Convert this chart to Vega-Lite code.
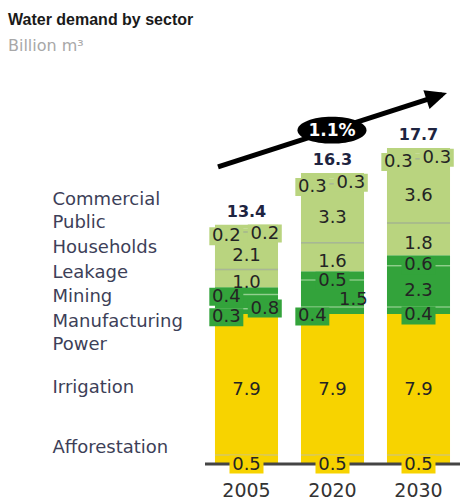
{
  "$schema": "https://vega.github.io/schema/vega-lite/v6.json",
  "width": 255,
  "height": 384,
  "autosize": "none",
  "padding": {"left": 205, "top": 80, "right": 0, "bottom": 37},
  "background": "white",
  "title": {
    "text": "Water demand by sector",
    "subtitle": "Billion m³",
    "anchor": "start",
    "frame": "group",
    "dx": -197,
    "offset": 26,
    "font": "Liberation Sans",
    "fontSize": 16,
    "fontWeight": "bold",
    "color": "#1a1a1a",
    "subtitleFont": "DejaVu Sans",
    "subtitleFontSize": 16,
    "subtitleColor": "#a8a8a8",
    "subtitlePadding": 10
  },
  "data": {
    "values": [
      {"year": "2005", "sector": "Afforestation", "value": 0.5},
      {"year": "2005", "sector": "Irrigation", "value": 7.9},
      {"year": "2005", "sector": "Power", "value": 0.3},
      {"year": "2005", "sector": "Manufacturing", "value": 0.8},
      {"year": "2005", "sector": "Mining", "value": 0.4},
      {"year": "2005", "sector": "Leakage", "value": 1.0},
      {"year": "2005", "sector": "Households", "value": 2.1},
      {"year": "2005", "sector": "Public", "value": 0.2},
      {"year": "2005", "sector": "Commercial", "value": 0.2},
      {"year": "2020", "sector": "Afforestation", "value": 0.5},
      {"year": "2020", "sector": "Irrigation", "value": 7.9},
      {"year": "2020", "sector": "Power", "value": 0.4},
      {"year": "2020", "sector": "Manufacturing", "value": 1.5},
      {"year": "2020", "sector": "Mining", "value": 0.5},
      {"year": "2020", "sector": "Leakage", "value": 1.6},
      {"year": "2020", "sector": "Households", "value": 3.3},
      {"year": "2020", "sector": "Public", "value": 0.3},
      {"year": "2020", "sector": "Commercial", "value": 0.3},
      {"year": "2030", "sector": "Afforestation", "value": 0.5},
      {"year": "2030", "sector": "Irrigation", "value": 7.9},
      {"year": "2030", "sector": "Power", "value": 0.4},
      {"year": "2030", "sector": "Manufacturing", "value": 2.3},
      {"year": "2030", "sector": "Mining", "value": 0.6},
      {"year": "2030", "sector": "Leakage", "value": 1.8},
      {"year": "2030", "sector": "Households", "value": 3.6},
      {"year": "2030", "sector": "Public", "value": 0.3},
      {"year": "2030", "sector": "Commercial", "value": 0.3}
    ]
  },
  "transform": [
    {"calculate": "indexof(['Afforestation','Irrigation','Power','Manufacturing','Mining','Leakage','Households','Public','Commercial'], datum.sector)", "as": "k"},
    {"stack": "value", "groupby": ["year"], "sort": [{"field": "k", "order": "ascending"}], "as": ["y0", "y1"]},
    {"calculate": "(datum.y0 + datum.y1) / 2", "as": "mid"}
  ],
  "layer": [
    {
      "layer": [
        {
          "mark": {"type": "bar"},
          "encoding": {
            "x": {
              "field": "year", "type": "nominal", "title": null,
              "scale": {"paddingInner": 0.267, "paddingOuter": 0.116},
              "axis": {"labelAngle": 0, "labelFont": "DejaVu Sans", "labelFontSize": 19, "labelColor": "#333333", "labelPadding": 17, "domain": false, "ticks": false}
            },
            "y": {
              "field": "y0", "type": "quantitative", "title": null,
              "scale": {"domain": [0, 21.51], "nice": false},
              "axis": {
                "values": [0.9, 4.31, 6.67, 7.96, 9.36, 10.7, 12.1, 13.5, 14.79],
                "labelExpr": "datum.value < 2 ? 'Afforestation' : datum.value < 5 ? 'Irrigation' : datum.value < 7 ? 'Power' : datum.value < 8.5 ? 'Manufacturing' : datum.value < 10 ? 'Mining' : datum.value < 11.5 ? 'Leakage' : datum.value < 13 ? 'Households' : datum.value < 14 ? 'Public' : 'Commercial'",
                "labelAlign": "left",
                "labelBaseline": "middle",
                "labelPadding": 153,
                "labelFont": "DejaVu Sans",
                "labelFontSize": 18,
                "labelColor": "#3d3f58",
                "labelOverlap": false,
                "labelBound": false,
                "labelFlush": false,
                "domain": false,
                "ticks": false,
                "grid": false
              }
            },
            "y2": {"field": "y1"},
            "color": {
              "field": "sector", "type": "nominal", "legend": null,
              "scale": {
                "domain": ["Afforestation", "Irrigation", "Power", "Manufacturing", "Mining", "Leakage", "Households", "Public", "Commercial"],
                "range": ["#f7d300", "#f7d300", "#33a33b", "#33a33b", "#33a33b", "#b9d47f", "#b9d47f", "#b9d47f", "#b9d47f"]
              }
            }
          }
        },
        {
          "transform": [{"filter": "indexof(['Afforestation','Power','Manufacturing','Leakage','Households'], datum.sector) >= 0"}],
          "mark": {"type": "tick", "thickness": 1.5, "size": 63, "orient": "horizontal"},
          "encoding": {
            "x": {"field": "year", "type": "nominal", "title": null},
            "y": {"field": "y1", "type": "quantitative", "title": null, "scale": {"domain": [0, 21.51], "nice": false}},
            "color": {
              "condition": [
                {"test": "datum.sector == 'Afforestation'", "value": "#c9c38f"},
                {"test": "datum.sector == 'Power' || datum.sector == 'Manufacturing'", "value": "#a6d8a0"}
              ],
              "value": "#9aa696"
            }
          }
        },
        {
          "data": {"values": [{"base": 0}]},
          "mark": {"type": "rule", "color": "#444444", "strokeWidth": 3},
          "encoding": {
            "y": {"field": "base", "type": "quantitative", "title": null, "scale": {"domain": [0, 21.51], "nice": false}}
          }
        },
        {
          "transform": [{"filter": "datum.sector == 'Afforestation' || (datum.sector == 'Mining' && datum.year != '2005') || (datum.sector == 'Power' && datum.year == '2030')"}],
          "mark": {"type": "point", "filled": true, "opacity": 1, "strokeWidth": 0, "size": 1156, "shape": "M-1,-0.235H1V0.824H-1Z"},
          "encoding": {
            "x": {"field": "year", "type": "nominal", "title": null},
            "y": {"field": "mid", "type": "quantitative", "title": null, "scale": {"domain": [0, 21.51], "nice": false}},
            "color": {"field": "sector", "type": "nominal", "legend": null}
          }
        },
        {
          "transform": [{"filter": "datum.sector == 'Public' || (datum.sector == 'Mining' && datum.year == '2005') || (datum.sector == 'Power' && datum.year != '2030')"}],
          "mark": {"type": "point", "filled": true, "opacity": 1, "strokeWidth": 0, "size": 1156, "shape": "M-1,-0.176H1V0.882H-1Z"},
          "encoding": {
            "x": {"field": "year", "type": "nominal", "title": null, "bandPosition": 0.18},
            "y": {"field": "mid", "type": "quantitative", "title": null, "scale": {"domain": [0, 21.51], "nice": false}},
            "color": {"field": "sector", "type": "nominal", "legend": null}
          }
        },
        {
          "transform": [{"filter": "datum.sector == 'Commercial' || (datum.sector == 'Manufacturing' && datum.year == '2005')"}],
          "mark": {"type": "point", "filled": true, "opacity": 1, "strokeWidth": 0, "size": 1156, "shape": "M-1,-0.118H1V0.941H-1Z"},
          "encoding": {
            "x": {"field": "year", "type": "nominal", "title": null, "bandPosition": 0.79},
            "y": {"field": "mid", "type": "quantitative", "title": null, "scale": {"domain": [0, 21.51], "nice": false}},
            "color": {"field": "sector", "type": "nominal", "legend": null}
          }
        },
        {
          "transform": [{"filter": "indexof(['Afforestation','Irrigation','Leakage','Households'], datum.sector) >= 0 || (datum.sector == 'Mining' && datum.year != '2005') || (datum.year == '2030' && (datum.sector == 'Power' || datum.sector == 'Manufacturing'))"}],
          "mark": {"type": "text", "font": "DejaVu Sans", "fontSize": 18, "color": "#242424", "baseline": "middle", "dy": 5},
          "encoding": {
            "x": {"field": "year", "type": "nominal", "title": null},
            "y": {"field": "mid", "type": "quantitative", "title": null, "scale": {"domain": [0, 21.51], "nice": false}},
            "text": {"field": "value", "type": "quantitative", "format": ".1f"}
          }
        },
        {
          "transform": [{"filter": "datum.sector == 'Public' || (datum.sector == 'Mining' && datum.year == '2005') || (datum.sector == 'Power' && datum.year != '2030')"}],
          "mark": {"type": "text", "font": "DejaVu Sans", "fontSize": 18, "color": "#242424", "baseline": "middle", "dy": 6},
          "encoding": {
            "x": {"field": "year", "type": "nominal", "title": null, "bandPosition": 0.18},
            "y": {"field": "mid", "type": "quantitative", "title": null, "scale": {"domain": [0, 21.51], "nice": false}},
            "text": {"field": "value", "type": "quantitative", "format": ".1f"}
          }
        },
        {
          "transform": [{"filter": "datum.sector == 'Commercial' || (datum.sector == 'Manufacturing' && datum.year == '2005')"}],
          "mark": {"type": "text", "font": "DejaVu Sans", "fontSize": 18, "color": "#242424", "baseline": "middle", "dy": 7},
          "encoding": {
            "x": {"field": "year", "type": "nominal", "title": null, "bandPosition": 0.79},
            "y": {"field": "mid", "type": "quantitative", "title": null, "scale": {"domain": [0, 21.51], "nice": false}},
            "text": {"field": "value", "type": "quantitative", "format": ".1f"}
          }
        },
        {
          "transform": [{"filter": "datum.sector == 'Manufacturing' && datum.year == '2020'"}],
          "mark": {"type": "text", "font": "DejaVu Sans", "fontSize": 18, "color": "#242424", "baseline": "middle", "dy": 6},
          "encoding": {
            "x": {"field": "year", "type": "nominal", "title": null, "bandPosition": 0.83},
            "y": {"field": "mid", "type": "quantitative", "title": null, "scale": {"domain": [0, 21.51], "nice": false}},
            "text": {"field": "value", "type": "quantitative", "format": ".1f"}
          }
        },
        {
          "transform": [{"aggregate": [{"op": "max", "field": "y1", "as": "total"}], "groupby": ["year"]}],
          "mark": {"type": "text", "font": "DejaVu Sans", "fontSize": 16, "fontWeight": "bold", "color": "#1e2440", "baseline": "middle", "dy": -13},
          "encoding": {
            "x": {"field": "year", "type": "nominal", "title": null},
            "y": {"field": "total", "type": "quantitative", "title": null, "scale": {"domain": [0, 21.51], "nice": false}},
            "text": {"field": "total", "type": "quantitative", "format": ".1f"}
          }
        }
      ]
    },
    {
      "data": {"values": [{"label": "1.1%"}]},
      "layer": [
        {
          "mark": {"type": "rule", "color": "#000000", "strokeWidth": 5},
          "encoding": {
            "x": {"datum": 0.051, "type": "quantitative", "scale": {"domain": [0, 1], "nice": false}, "axis": null},
            "x2": {"datum": 0.93},
            "y": {"datum": 16.64, "type": "quantitative", "title": null, "scale": {"domain": [0, 21.51], "nice": false}},
            "y2": {"datum": 20.69}
          }
        },
        {
          "mark": {"type": "point", "filled": true, "opacity": 1, "color": "#000000", "strokeWidth": 0, "size": 324, "angle": 342, "shape": "M0,0L-2.4,-1.1L-2.4,1.1Z"},
          "encoding": {
            "x": {"datum": 0.949, "type": "quantitative", "scale": {"domain": [0, 1], "nice": false}, "axis": null},
            "y": {"datum": 20.78, "type": "quantitative", "title": null, "scale": {"domain": [0, 21.51], "nice": false}}
          }
        },
        {
          "mark": {"type": "point", "filled": true, "opacity": 1, "color": "#000000", "strokeWidth": 0, "size": 4761, "shape": "M-1,0A1,0.39 0 1,1 1,0A1,0.39 0 1,1 -1,0Z"},
          "encoding": {
            "x": {"datum": 0.498, "type": "quantitative", "scale": {"domain": [0, 1], "nice": false}, "axis": null},
            "y": {"datum": 18.7, "type": "quantitative", "title": null, "scale": {"domain": [0, 21.51], "nice": false}}
          }
        },
        {
          "mark": {"type": "text", "font": "DejaVu Sans", "fontSize": 17, "fontWeight": "bold", "color": "#ffffff", "baseline": "middle", "dy": 1},
          "encoding": {
            "x": {"datum": 0.498, "type": "quantitative", "scale": {"domain": [0, 1], "nice": false}, "axis": null},
            "y": {"datum": 18.7, "type": "quantitative", "title": null, "scale": {"domain": [0, 21.51], "nice": false}},
            "text": {"field": "label"}
          }
        }
      ]
    }
  ],
  "resolve": {"scale": {"x": "independent"}},
  "config": {
    "view": {"stroke": null},
    "axis": {"grid": false, "ticks": false, "domain": false}
  }
}
